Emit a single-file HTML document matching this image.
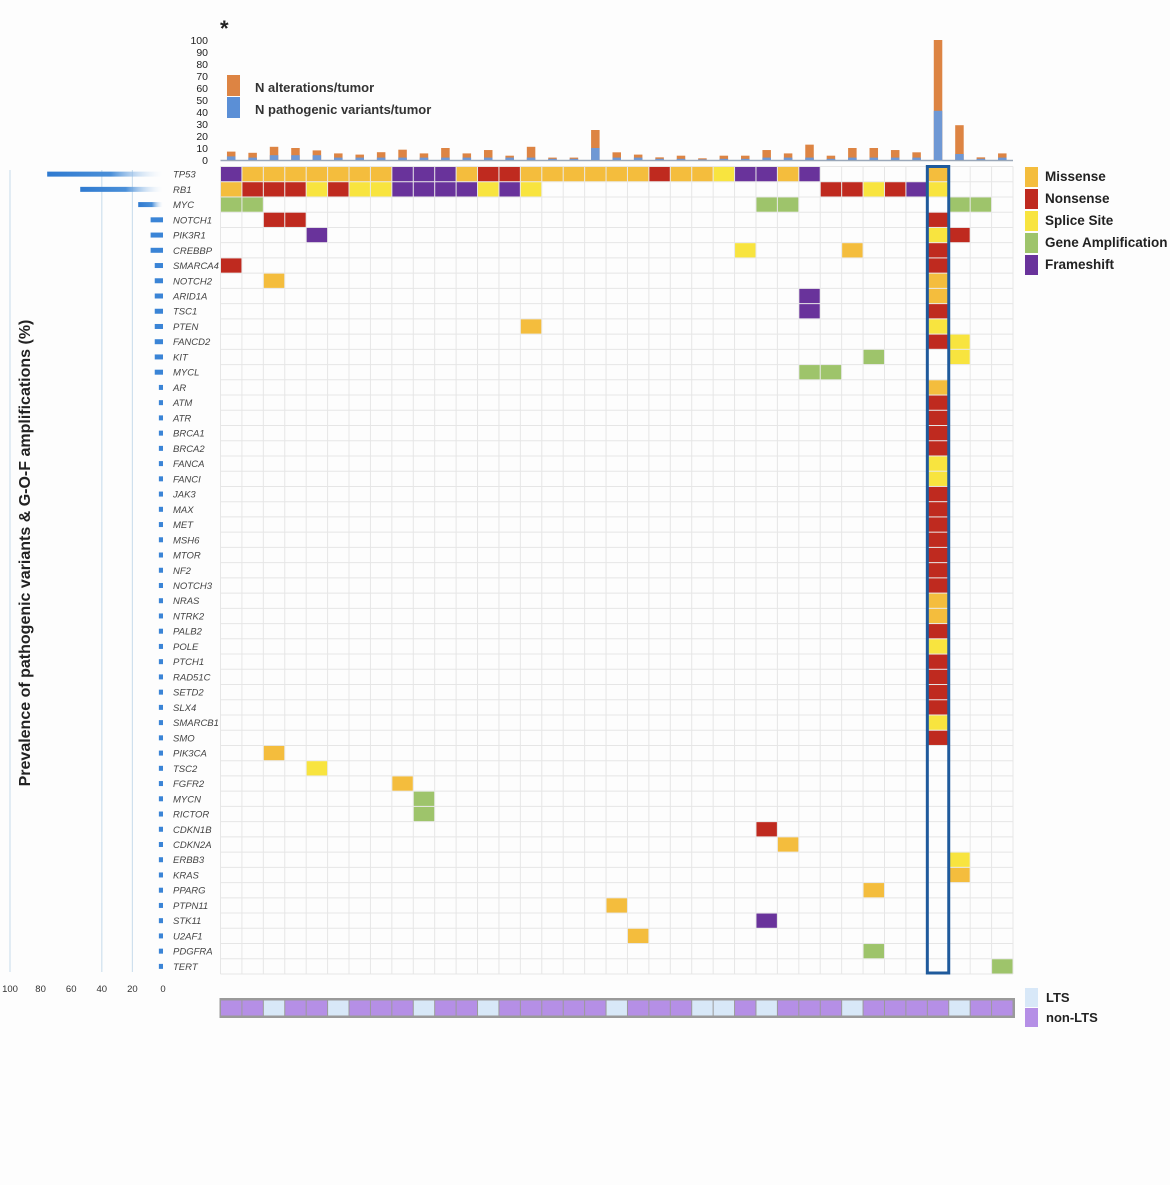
<!DOCTYPE html>
<html><head><meta charset="utf-8"><style>
html,body{margin:0;padding:0;background:#fff;}
svg{display:block;font-family:"Liberation Sans",sans-serif;}
</style></head><body>
<svg id="chart" width="1170" height="1185" viewBox="0 0 1170 1185">
<rect x="0" y="0" width="1170" height="1185" fill="#fdfdfd"/>
<g id="grid"></g>
<g id="cells"></g>
<g id="topbars"></g>
<g id="leftbars"></g>
<g id="labels"></g>
<g id="lts"></g>
<text x="220" y="36" font-size="22" font-weight="bold" fill="#222">*</text>
<text transform="translate(30,553) rotate(-90)" text-anchor="middle" font-size="16" font-weight="bold" fill="#222">Prevalence of pathogenic variants &amp; G-O-F amplifications (%)</text>
<g>
<rect x="227" y="75" width="13" height="21" fill="#dd8443"/>
<rect x="227" y="97" width="13" height="21" fill="#5b8fd6"/>
<text x="255" y="92" font-size="13" font-weight="bold" fill="#333">N alterations/tumor</text>
<text x="255" y="114" font-size="13" font-weight="bold" fill="#333">N pathogenic variants/tumor</text>
</g>
<g id="legend"></g>
</svg>
<script>
const genes=["TP53","RB1","MYC","NOTCH1","PIK3R1","CREBBP","SMARCA4","NOTCH2","ARID1A","TSC1","PTEN","FANCD2","KIT","MYCL","AR","ATM","ATR","BRCA1","BRCA2","FANCA","FANCI","JAK3","MAX","MET","MSH6","MTOR","NF2","NOTCH3","NRAS","NTRK2","PALB2","POLE","PTCH1","RAD51C","SETD2","SLX4","SMARCB1","SMO","PIK3CA","TSC2","FGFR2","MYCN","RICTOR","CDKN1B","CDKN2A","ERBB3","KRAS","PPARG","PTPN11","STK11","U2AF1","PDGFRA","TERT"];
const alterations=["F0 M1-7 F8-10 M11 N12-13 M14-19 N20 M21-22 S23 F24-25 M26 F27 M33","M0 N1-3 S4 N5 S6-7 F8-11 S12 F13 S14 N28-29 S30 N31 F32 S33","A0-1 A25-26 A34-35","N2-3 N33","F4 S33 N34","S24 M29 N33","N0 N33","M2 M33","F27 M33","F27 N33","M14 S33","N33 S34","A30 S34","A27-28","M33","N33","N33","N33","N33","S33","S33","N33","N33","N33","N33","N33","N33","N33","M33","M33","N33","S33","N33","N33","N33","N33","S33","N33","M2","S4","M8","A9","A9","N25","M26","S34","M34","M30","M18","F25","M19","A30","A36"];
const prevalence=[75.7,54.1,16.2,8.1,8.1,8.1,5.4,5.4,5.4,5.4,5.4,5.4,5.4,5.4,2.7,2.7,2.7,2.7,2.7,2.7,2.7,2.7,2.7,2.7,2.7,2.7,2.7,2.7,2.7,2.7,2.7,2.7,2.7,2.7,2.7,2.7,2.7,2.7,2.7,2.7,2.7,2.7,2.7,2.7,2.7,2.7,2.7,2.7,2.7,2.7,2.7,2.7,2.7];
const totalAlts=[7,6,11,10,8,5.5,4.5,6.5,8.6,5.5,10,5.5,8.3,3.6,11,2,2,25,6.4,4.5,2.2,3.6,1.4,3.6,3.6,8.3,5.5,12.8,3.6,10,10,8.3,6.4,100,29,2.2,5.5];
const pathVars=[3,2,4,4,4,2,2,2,2,2,2,2,2,2,2,1,1,10,2,2,1,1,0.5,1,1,2,2,2,1,2,2,2,2,41,5,1,2];
const ltsCols=[2,5,9,12,18,22,23,25,29,34];
const topTicks=[0,10,20,30,40,50,60,70,80,90,100];
const leftTicks=[100,80,60,40,20,0];
const typeNames={M:"Missense",N:"Nonsense",S:"Splice Site",A:"Gene Amplification",F:"Frameshift"};
const typeColors={M:"#f4bd3d",N:"#bf2a1f",S:"#f8e43f",A:"#9ec46b",F:"#69339b"};
const nCols=37, nRows=genes.length;
const gx0=220.5, gx1=1013, gy0=166.5, gy1=974;
const cw=(gx1-gx0)/nCols, rh=(gy1-gy0)/nRows;
const colX=k=>gx0+k*cw, rowY=i=>gy0+i*rh;
const topY=v=>160-v*1.2;
const leftX=v=>163-v*1.53;
const NS="http://www.w3.org/2000/svg";
function mk(tag,attrs,parent){const e=document.createElementNS(NS,tag);for(const k in attrs)e.setAttribute(k,attrs[k]);parent.appendChild(e);return e;}
const G=id=>document.getElementById(id);
// defs
const defs=mk("defs",{},G("chart"));
const lg=mk("linearGradient",{id:"fade",x1:"0",x2:"1",y1:"0",y2:"0"},defs);
mk("stop",{offset:"0","stop-color":"#2f7ad0"},lg);mk("stop",{offset:"0.55","stop-color":"#4a8fd8"},lg);mk("stop",{offset:"1","stop-color":"#ffffff","stop-opacity":"0.2"},lg);
// grid
for(let k=0;k<=nCols;k++){const l=mk("line",{x1:colX(k),x2:colX(k),y1:gy0,y2:gy1,stroke:"#e6e6e6","stroke-width":1},G("grid"));

}
for(let i=0;i<=nRows;i++){const l=mk("line",{x1:gx0,x2:gx1,y1:rowY(i),y2:rowY(i),stroke:"#e6e6e6","stroke-width":1},G("grid"));

}
// cells
alterations.forEach((spec,i)=>{spec.split(" ").forEach(tok=>{const t=tok[0];const r=tok.slice(1).split("-").map(Number);const a=r[0],b=r.length>1?r[1]:r[0];
for(let k=a;k<=b;k++){const c=mk("rect",{x:colX(k)+0.5,y:rowY(i)+0.5,width:cw-1,height:rh-1,fill:typeColors[t]},G("cells"));

}});});
// highlight box
const hb=mk("rect",{x:colX(33),y:gy0,width:cw,height:gy1-gy0-1,fill:"none",stroke:"#1f5a9c","stroke-width":3},G("cells"));


// labels
genes.forEach((g,i)=>{const t=mk("text",{x:173,y:rowY(i)+rh/2+3.5,"font-size":9.5,"font-style":"italic",fill:"#444"},G("labels"));t.textContent=g;

});
// top bars
const tb=G("topbars");
const base=mk("line",{x1:gx0,x2:gx1,y1:160.5,y2:160.5,stroke:"#9aa7b8","stroke-width":1.5},tb);


topTicks.forEach(v=>{const t=mk("text",{x:208,y:topY(v)+4,"text-anchor":"end","font-size":10.5,fill:"#222"},tb);t.textContent=v;

});
totalAlts.forEach((v,k)=>{const cx=colX(k)+cw/2, w=8.5;
const o=mk("rect",{x:cx-w/2,y:topY(v),width:w,height:160-topY(v),fill:"#dd8443"},tb);


const p=pathVars[k];const b=mk("rect",{x:cx-w/2,y:topY(p),width:w,height:160-topY(p),fill:"#6f98d4"},tb);

});
// left bars
const lb=G("leftbars");
[100,40,20].forEach(v=>{const l=mk("line",{x1:leftX(v),x2:leftX(v),y1:170,y2:972,stroke:"#cfe0ee","stroke-width":1.2},lb);

});
leftTicks.forEach(v=>{const t=mk("text",{x:leftX(v),y:992,"text-anchor":"middle","font-size":9.5,fill:"#333"},lb);t.textContent=v;

});
prevalence.forEach((v,i)=>{const x=leftX(v);const r=mk("rect",{x:x,y:rowY(i)+rh/2-2.5,width:163-x,height:5,fill:v>10?"url(#fade)":"#3a84d6"},lb);

});
// LTS track
const lt=G("lts");
const fr=mk("rect",{x:gx0-1,y:998,width:gx1-gx0+3,height:20,fill:"#9a9a9a"},lt);


for(let k=0;k<nCols;k++){const isL=ltsCols.includes(k);const r=mk("rect",{x:colX(k)+0.5,y:1000.5,width:cw-1,height:15,fill:isL?"#d8e8f8":"#b58fe6"},lt);

}
// legends
const lgd=G("legend");
["M","N","S","A","F"].forEach((t,j)=>{const y=167+j*22;
const r=mk("rect",{x:1025,y:y,width:13,height:20,fill:typeColors[t]},lgd);


const tx=mk("text",{x:1045,y:y+14,"font-size":13.5,"font-weight":"bold",fill:"#222"},lgd);tx.textContent=typeNames[t];

});
[["LTS","#d8e8f8",988],["non-LTS","#b58fe6",1008]].forEach(([n,c,y])=>{
const r=mk("rect",{x:1025,y:y,width:13,height:19,fill:c},lgd);


const tx=mk("text",{x:1046,y:y+14,"font-size":13,"font-weight":"bold",fill:"#222"},lgd);tx.textContent=n;

});
</script>
</body></html>
